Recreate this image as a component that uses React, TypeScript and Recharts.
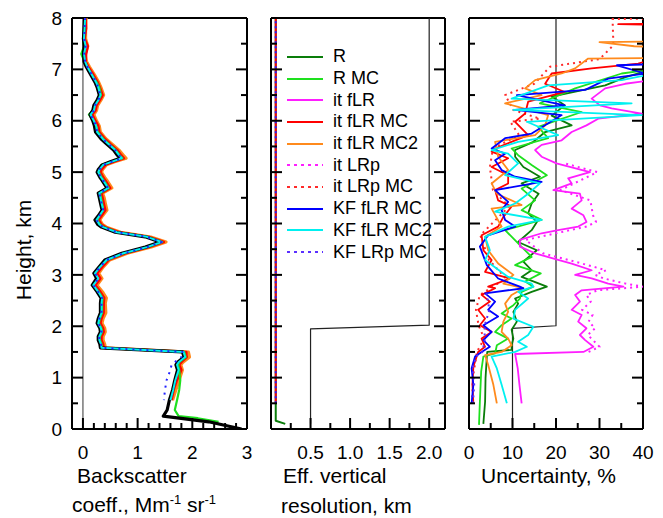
import { ReferenceLine, Scatter, ScatterChart, XAxis, YAxis } from "recharts";

const FONT = '"Liberation Sans", Arial, Helvetica, sans-serif';

// ---- shared height axis (km)
const heightTicks = [0, 1, 2, 3, 4, 5, 6, 7, 8];
const heightMinor = [0.5, 1.5, 2.5, 3.5, 4.5, 5.5, 6.5, 7.5];

// ---- panel 1: backscatter coefficient, Mm-1 sr-1
const bsTicks = [0, 1, 2, 3];
const bsMinor = [0.2, 0.4, 0.6, 0.8, 1.2, 1.4, 1.6, 1.8, 2.2, 2.4, 2.6, 2.8];

const bsHeight = [
  8.0, 7.8, 7.6, 7.45, 7.3, 7.15, 7.05, 6.9, 6.75, 6.65,
  6.5, 6.4, 6.3, 6.2, 6.12, 6.0, 5.9, 5.78, 5.65, 5.55,
  5.43, 5.33, 5.27, 5.2, 5.14, 5.05, 5.0, 4.9, 4.84, 4.69,
  4.59, 4.5, 4.4, 4.26, 4.15, 4.07, 3.98, 3.93, 3.83, 3.74,
  3.64, 3.54, 3.42, 3.29, 3.15, 3.03, 2.93, 2.8, 2.67, 2.55,
  2.45, 2.26, 2.15, 2.06, 1.96, 1.89, 1.8, 1.73, 1.65, 1.58,
  1.5, 1.4, 1.3, 1.25, 1.15, 0.95, 0.76, 0.56, 0.37, 0.25,
  0.21, 0.14, 0.0,
];
const bsBlack = [
  0.03, 0.02, 0.01, 0.02, 0.01, 0.02, 0.06, 0.14, 0.22, 0.26,
  0.3, 0.26, 0.2, 0.18, 0.13, 0.18, 0.21, 0.23, 0.33, 0.43,
  0.56, 0.63, 0.68, 0.5, 0.35, 0.28, 0.26, 0.31, 0.35, 0.44,
  0.28, 0.3, 0.32, 0.35, 0.28, 0.22, 0.27, 0.34, 0.59, 1.14,
  1.41, 1.14, 0.71, 0.4, 0.29, 0.2, 0.25, 0.17, 0.26, 0.33,
  0.32, 0.32, 0.28, 0.26, 0.31, 0.32, 0.28, 0.28, 0.31, 0.32,
  1.82, 1.85, 1.73, 1.7, 1.73, 1.68, 1.64, 1.58, 1.54, 1.47,
  1.76, 2.3, 2.9,
];
const bsRMC = [
  0.04, 0.03, 0.0, 0.02, -0.03, 0.03, 0.08, 0.16, 0.25, 0.3,
  0.33, 0.28, 0.21, 0.18, 0.11, 0.19, 0.24, 0.27, 0.37, 0.47,
  0.6, 0.67, 0.72, 0.5, 0.33, 0.3, 0.29, 0.34, 0.38, 0.47,
  0.31, 0.33, 0.35, 0.37, 0.3, 0.26, 0.31, 0.38, 0.63, 1.18,
  1.45, 1.18, 0.75, 0.44, 0.3, 0.21, 0.27, 0.18, 0.29, 0.36,
  0.35, 0.35, 0.31, 0.29, 0.34, 0.35, 0.31, 0.31, 0.34, 0.35,
  1.85, 1.88, 1.76, 1.74, 1.76, 1.78, 1.76, 1.72, 1.68, 1.75,
  2.1, 2.48, null,
];
const bsItFlrMC = [
  0.05, 0.06, 0.03, 0.09, 0.06, 0.05, 0.1, 0.19, 0.27, 0.31,
  0.36, 0.31, 0.25, 0.23, 0.17, 0.23, 0.28, 0.3, 0.4, 0.5,
  0.63, 0.7, 0.75, 0.56, 0.41, 0.34, 0.32, 0.37, 0.41, 0.5,
  0.34, 0.36, 0.38, 0.41, 0.34, 0.29, 0.34, 0.41, 0.66, 1.21,
  1.48, 1.21, 0.78, 0.47, 0.35, 0.26, 0.32, 0.23, 0.32, 0.39,
  0.38, 0.38, 0.34, 0.32, 0.37, 0.38, 0.34, 0.34, 0.37, 0.38,
  1.89, 1.9, 1.8, 1.76, 1.8, 1.72, 1.66, 1.62, null, null,
  null, null, null,
];
const bsItFlrMC2 = [
  0.06, 0.05, 0.05, 0.09, 0.04, 0.07, 0.12, 0.21, 0.29, 0.33,
  0.38, 0.33, 0.27, 0.25, 0.2, 0.25, 0.3, 0.32, 0.42, 0.53,
  0.66, 0.74, 0.79, 0.58, 0.43, 0.36, 0.34, 0.4, 0.44, 0.53,
  0.36, 0.39, 0.41, 0.44, 0.36, 0.31, 0.36, 0.43, 0.69, 1.24,
  1.52, 1.25, 0.81, 0.49, 0.37, 0.29, 0.35, 0.26, 0.36, 0.43,
  0.41, 0.42, 0.37, 0.35, 0.4, 0.41, 0.37, 0.37, 0.4, 0.41,
  1.93, 1.95, 1.83, 1.79, 1.82, 1.76, 1.7, 1.64, null, null,
  null, null, null,
];
const bsKfFlrMC2 = [
  0.04, 0.03, 0.02, 0.05, 0.02, 0.04, 0.08, 0.16, 0.24, 0.28,
  0.32, 0.28, 0.22, 0.2, 0.14, 0.2, 0.24, 0.26, 0.36, 0.46,
  0.59, 0.66, 0.71, 0.52, 0.37, 0.3, 0.28, 0.33, 0.37, 0.46,
  0.3, 0.32, 0.34, 0.37, 0.3, 0.25, 0.3, 0.37, 0.62, 1.17,
  1.44, 1.17, 0.74, 0.43, 0.31, 0.22, 0.28, 0.19, 0.28, 0.35,
  0.34, 0.34, 0.3, 0.28, 0.33, 0.34, 0.3, 0.3, 0.33, 0.34,
  1.84, 1.87, 1.75, 1.72, 1.75, 1.69, 1.65, 1.6, null, null,
  null, null, null,
];
const bsKfLrpMC = [
  0.04, 0.03, 0.02, 0.05, 0.02, 0.04, 0.08, 0.16, 0.24, 0.28,
  0.32, 0.28, 0.22, 0.2, 0.14, 0.2, 0.24, 0.26, 0.36, 0.46,
  0.59, 0.66, 0.71, 0.52, 0.37, 0.3, 0.28, 0.33, 0.37, 0.46,
  0.3, 0.32, 0.34, 0.37, 0.3, 0.25, 0.3, 0.37, 0.62, 1.17,
  1.44, 1.17, 0.74, 0.43, 0.31, 0.22, 0.28, 0.19, 0.28, 0.35,
  0.34, 0.34, 0.3, 0.28, 0.33, 0.34, 0.3, 0.3, 0.33, 0.34,
  1.84, 1.8, 1.68, 1.62, 1.6, 1.53, 1.5, 1.48, null, null,
  null, null, null,
];

// ---- panel 2: effective vertical resolution, km  [height, value]
const resTicks = [0.5, 1, 1.5, 2];
const resMinor = [0.25, 0.75, 1.25, 1.75];
const resBlack = [[0.1, 0.5], [1.95, 0.5], [2.02, 2.0], [8, 2.0]];
const resR = [[0.1, 0.18], [0.16, 0.06], [8, 0.06]];
const resItFlrMC = [[0.5, 0.06], [8, 0.06]];
const resKfLrpMC = [[0.5, 0.06], [8, 0.06]];

// ---- panel 3: uncertainty, %  [height, value]
const uncTicks = [0, 10, 20, 30, 40];
const uncMinor = [5, 15, 25, 35];
const uncBlack = [[0.05, 10], [1.96, 10], [2.01, 20], [8, 20]];
const uncR = [
  [0.1, 3.3], [0.53, 3.7], [0.99, 3.8], [1.41, 4.1], [1.5, 4.2], [1.54, 9.8], [1.63, 9.8], [1.76, 10.2],
  [1.93, 9.8], [2.09, 11], [2.28, 10.2], [2.44, 11.3], [2.54, 10.6], [2.67, 14.4], [2.77, 17.9], [2.96, 12.1],
  [3.09, 14.4], [3.26, 12.5], [3.48, 15.6], [3.64, 11.3], [3.87, 14.4], [4.03, 15.6], [4.2, 13.6], [4.39, 14.4],
  [4.58, 16], [4.78, 12.1], [4.91, 16.3], [5.1, 12.5], [5.3, 10.6], [5.43, 10.6], [5.59, 14.8], [5.78, 17.5],
  [5.91, 23.6], [6.1, 19], [6.3, 22], [6.47, 19], [6.69, 31.3], [6.85, 36], [7.0, 42],
];
const uncRMC = [
  [0.08, 2.3], [0.53, 2.5], [1.12, 2.8], [1.41, 3.3], [1.47, 6], [1.63, 6.4], [1.76, 9], [1.89, 6],
  [2.02, 7.5], [2.15, 9.8], [2.25, 7.5], [2.41, 10.2], [2.54, 11.7], [2.67, 12.1], [2.77, 14.8], [2.87, 12.9],
  [3.03, 16.5], [3.19, 10.6], [3.35, 14.4], [3.58, 11.7], [3.87, 8.3], [4.07, 16.7], [4.26, 12.1], [4.45, 15.2],
  [4.68, 12.1], [4.94, 17.9], [5.14, 14.4], [5.33, 11.3], [5.46, 9.8], [5.66, 18.2], [5.88, 15.9], [6.17, 25.9],
  [6.34, 16.3], [6.63, 24.4], [6.92, 35.1], [7.0, 42],
];
const uncItFlr = [
  [0.5, 12.1], [0.86, 11.6], [1.18, 11.2], [1.46, 10.6], [1.5, 26.3], [1.6, 28.6], [1.73, 26.7], [1.83, 25.5],
  [1.96, 27], [2.09, 25.1], [2.22, 25.9], [2.32, 23.6], [2.48, 25.5], [2.61, 24.4], [2.7, 25.9], [2.77, 35.5],
  [2.83, 32], [2.93, 28.2], [3.0, 24.4], [3.09, 28.2], [3.22, 23.6], [3.29, 20.5], [3.42, 15.2], [3.55, 11.7],
  [3.68, 11.7], [3.81, 16.7], [3.87, 20.5], [3.94, 25.1], [4.03, 27], [4.16, 26.3], [4.29, 23.6], [4.45, 25.9],
  [4.58, 25.5], [4.65, 19.4], [4.78, 23.6], [4.88, 22.8], [5.0, 27.8], [5.17, 20.1], [5.3, 16.7], [5.43, 15.2],
  [5.53, 16.7], [5.62, 21.3], [5.78, 23.6], [5.91, 27], [6.04, 29.7], [6.14, 39.7], [6.24, 32.8], [6.3, 30.1],
  [6.43, 28.2], [6.63, 31.3], [6.72, 35.9], [6.79, 42],
];
const uncItLrp = [
  [1.5, 27.5], [1.6, 30], [1.73, 28.5], [1.83, 27.3], [1.96, 29], [2.09, 27.5], [2.22, 28.4], [2.32, 26],
  [2.48, 28], [2.61, 27], [2.7, 29.5], [2.77, 40], [2.83, 36], [2.93, 31], [3.0, 29], [3.09, 31.5],
  [3.22, 26], [3.42, 17], [3.68, 13], [3.94, 27], [4.03, 29.2], [4.16, 28.5], [4.45, 27.9], [4.65, 21],
  [5.0, 29.5], [5.17, 22],
];
const uncItFlrMC = [
  [0.5, 1.0], [0.86, 0.8], [1.21, 1.0], [1.5, 2.1], [1.6, 3.7], [1.76, 2.9], [1.89, 5.2], [2.02, 2.5],
  [2.15, 3.7], [2.32, 2.1], [2.48, 4.8], [2.61, 2.9], [2.74, 6.0], [2.77, 4.4], [2.93, 9.4], [3.06, 3.7],
  [3.29, 5.2], [3.48, 3.3], [3.77, 2.9], [3.94, 6.7], [4.13, 7.9], [4.33, 9.8], [4.45, 6.7], [4.65, 6.0],
  [4.78, 9.0], [4.94, 9.0], [5.1, 5.2], [5.27, 9.0], [5.4, 5.2], [5.46, 6], [5.72, 13.6], [5.98, 10.6],
  [6.14, 12.9], [6.37, 13.6], [6.56, 22], [6.72, 17.5], [6.92, 19], [7.02, 28.2], [7.11, 38.9], [7.2, 42],
  [7.87, 42], [7.88, 34.3], [7.89, 42],
];
const uncItLrpMC = [
  [0.5, 0.7], [1.0, 0.9], [1.5, 1.8], [1.76, 3.5], [2.02, 2.2], [2.32, 1.6], [2.61, 2.5], [2.93, 8.5],
  [3.29, 4.6], [3.77, 2.6], [4.33, 9.2], [4.65, 5.5], [5.1, 4.8], [5.46, 5.5], [5.72, 11.5], [5.98, 9.5],
  [6.04, 16.3], [6.21, 10.2], [6.5, 8.3], [6.72, 15], [7.05, 18.6], [7.2, 30], [7.47, 33.2], [7.98, 33],
  [7.99, 42],
];
const uncItFlrMC2 = [
  [0.5, 6.4], [0.86, 5.6], [1.25, 4.4], [1.44, 3.7], [1.5, 7.5], [1.63, 9.8], [1.76, 9], [1.89, 7.5],
  [2.09, 7.9], [2.28, 9], [2.44, 8.3], [2.61, 9.8], [2.74, 12.5], [2.83, 7.9], [3.0, 10.2], [3.22, 6.7],
  [3.48, 4.4], [3.74, 3.7], [3.94, 7.5], [4.29, 5.2], [4.36, 12.1], [4.58, 6.4], [4.78, 5.2], [5.04, 9],
  [5.3, 6.7], [5.59, 6], [5.72, 15.2], [5.91, 17.5], [6.11, 18.2], [6.34, 8.3], [6.5, 16.7], [6.63, 12.9],
  [6.79, 15.2], [6.92, 21.3], [7.02, 24.4], [7.21, 27.4], [7.22, 42], [7.44, 42], [7.45, 38], [7.53, 30],
  [7.54, 42],
];
const uncKfFlrMC = [
  [0.5, 0.6], [0.86, 1.0], [1.18, 0.6], [1.41, 1.4], [1.5, 2.9], [1.6, 4.8], [1.73, 3.3], [1.89, 5.2],
  [2.02, 3.3], [2.19, 6.7], [2.32, 4.4], [2.48, 6.0], [2.64, 3.7], [2.74, 12.5], [2.77, 11.7], [2.93, 6.7],
  [3.19, 4.1], [3.55, 2.5], [3.77, 4.4], [3.94, 10.6], [4.07, 8.3], [4.26, 7.5], [4.42, 9], [4.65, 6],
  [4.81, 16.7], [4.91, 10.6], [5.04, 7.5], [5.23, 6], [5.36, 8.3], [5.46, 5.2], [5.66, 8.3], [5.75, 14.4],
  [6.11, 21.3], [6.21, 10.6], [6.3, 22], [6.5, 11], [6.6, 26.7], [6.82, 32], [6.92, 40.5], [7.08, 34],
  [7.1, 42],
];
const uncKfFlrMC2 = [
  [0.5, 8.7], [0.86, 7.5], [1.18, 6.4], [1.41, 5.2], [1.5, 10.6], [1.6, 13.3], [1.7, 11.3], [1.83, 13.6],
  [1.99, 14.8], [2.15, 10.2], [2.32, 10.6], [2.54, 13.6], [2.67, 11.3], [2.77, 14.8], [2.83, 14.4], [2.96, 9],
  [3.29, 3.7], [3.48, 4.8], [3.74, 3.7], [3.94, 9], [4.07, 16.7], [4.23, 6], [4.39, 10.6], [4.58, 13.6],
  [4.78, 16.3], [4.94, 8.3], [5.17, 11.3], [5.36, 9], [5.43, 5.2], [5.59, 11.3], [5.72, 20.5], [5.98, 13.3],
  [6.11, 39.7], [6.21, 10.2], [6.34, 37.4], [6.43, 9.8], [6.69, 18.2], [6.79, 35.1], [6.89, 41],
];
const uncKfLrpMC = [
  [0.5, 0.9], [0.86, 1.2], [1.18, 0.8], [1.41, 1.6], [1.5, 3.1], [1.73, 3.6], [2.02, 3.6], [2.32, 4.7],
  [2.64, 4.0],
];

// ---- legend
const legendNames = ["R", "R MC", "it fLR", "it fLR MC", "it fLR MC2", "it LRp", "it LRp MC", "KF fLR MC", "KF fLR MC2", "KF LRp MC"];
const legendColors = ["#0a7d0a", "#1ee01e", "#ff1eff", "#ff0000", "#ff8a1c", "#ff1eff", "#ff2a2a", "#0000ff", "#00f0f0", "#5a30ff"];
const legendDotted = [false, false, false, false, false, true, true, false, false, true];

const C = {
  r: legendColors[0],
  rmc: legendColors[1],
  fl: legendColors[2],
  flmc: legendColors[3],
  flmc2: legendColors[4],
  lrp: legendColors[5],
  lrpmc: legendColors[6],
  kf: legendColors[7],
  kf2: legendColors[8],
  kflrp: legendColors[9],
};
const DOT = "2 4";

const profile = (hs: number[], vs: (number | null)[]) =>
  hs.map((h, i) => ({ h, v: vs[i] })).filter((p) => p.v != null);
const pairs = (rows: number[][]) => rows.map(([h, v]) => ({ h, v }));

const trace = (key: string, data: any[], color: string, width: number, dash?: string) => (
  <Scatter
    key={key}
    data={data}
    fill="none"
    legendType="none"
    isAnimationActive={false}
    shape={() => <g />}
    line={{ stroke: color, strokeWidth: width, strokeDasharray: dash, strokeLinejoin: "round" }}
  />
);

const axisStroke = { stroke: "#000", strokeWidth: 2 };
const MAJOR = 11;
const MINOR = 6;

// tick renderer: inward tick mark (long on majors, short on minors), optional label.
// `gap` is the distance between the label anchor and the plot edge.
const frameTick =
  (side: "left" | "right" | "top" | "bottom", majors: number[], gap: number, label?: (v: number) => string) =>
  (props: any) => {
    const { x, y, payload } = props;
    const v = payload.value;
    const major = majors.includes(v);
    const len = major ? MAJOR : MINOR;
    let mark;
    if (side === "left") mark = <line x1={x + gap} y1={y} x2={x + gap + len} y2={y} />;
    else if (side === "right") mark = <line x1={x - gap} y1={y} x2={x - gap - len} y2={y} />;
    else if (side === "top") mark = <line x1={x} y1={y + gap} x2={x} y2={y + gap + len} />;
    else mark = <line x1={x} y1={y - gap} x2={x} y2={y - gap - len} />;
    return (
      <g>
        <g stroke="#000" strokeWidth={2}>{mark}</g>
        {label && major && (
          <text
            x={x}
            y={y}
            dy={side === "bottom" ? "0.71em" : "0.35em"}
            textAnchor={side === "left" ? "end" : "middle"}
            fontSize={19}
            fontFamily={FONT}
            fill="#000"
          >
            {label(v)}
          </text>
        )}
      </g>
    );
  };

const titleLabel = (lines: { dx: number; dy: number; text: any }[]) => ({
  content: (p: any) => {
    const vb = p.viewBox || { x: 0, y: 0 };
    return (
      <g>
        {lines.map((l, i) => (
          <text key={i} x={vb.x + l.dx} y={vb.y + l.dy} fontSize={21} fontFamily={FONT} fill="#000">
            {l.text}
          </text>
        ))}
      </g>
    );
  },
});

const sup = (s: string) => (
  <tspan fontSize={13} dy={-8}>
    {s}
  </tspan>
);

const CHART_H = 518;
const X_AXIS_H = 89;
const LABEL_GAP_X = 17;
const LABEL_GAP_Y = 10;

// main bottom axis carrying labels + inward bottom ticks
const bottomAxis = (domain: number[], majors: number[], minors: number[], fmt: (v: number) => string, label: any) => (
  <XAxis
    dataKey="v"
    type="number"
    domain={domain}
    allowDataOverflow
    ticks={[...majors, ...minors]}
    interval={0}
    height={X_AXIS_H}
    tickLine={false}
    tickSize={0}
    tickMargin={LABEL_GAP_X}
    axisLine={axisStroke}
    tick={frameTick("bottom", majors, LABEL_GAP_X, fmt)}
    label={label}
  />
);

// top and right frame sides (mirrored, 1px size so they sit on the plot edge)
const topRightAxes = (domain: number[], majors: number[], minors: number[]) => [
  <XAxis
    key="top"
    xAxisId="top"
    orientation="top"
    mirror
    height={1}
    type="number"
    domain={domain}
    allowDataOverflow
    ticks={[...majors, ...minors]}
    interval={0}
    tickLine={false}
    tickSize={0}
    tickMargin={0}
    axisLine={axisStroke}
    tick={frameTick("top", majors, 0)}
  />,
  <YAxis
    key="right"
    yAxisId="right"
    orientation="right"
    mirror
    width={1}
    type="number"
    domain={[0, 8]}
    allowDataOverflow
    ticks={[...heightTicks, ...heightMinor]}
    interval={0}
    tickLine={false}
    tickSize={0}
    tickMargin={0}
    axisLine={axisStroke}
    tick={frameTick("right", heightTicks, 0)}
  />,
];

// left side for panels 2 and 3: no labels, mirrored onto the plot edge
const plainLeftAxis = () => (
  <YAxis
    dataKey="h"
    type="number"
    domain={[0, 8]}
    allowDataOverflow
    mirror
    width={1}
    ticks={[...heightTicks, ...heightMinor]}
    interval={0}
    tickLine={false}
    tickSize={0}
    tickMargin={0}
    axisLine={axisStroke}
    tick={frameTick("left", heightTicks, 0)}
  />
);

export default function App() {
  return (
    <div style={{ position: "fixed", left: 0, top: 0, width: 663, height: 518, background: "#fff", fontFamily: FONT }}>
      {/* panel 1: backscatter */}
      <div style={{ position: "absolute", left: 0, top: 0 }}>
        <ScatterChart width={262} height={CHART_H} margin={{ top: 18, right: 15, bottom: 0, left: 0 }}>
          {bottomAxis(
            [-0.2, 3],
            bsTicks,
            bsMinor,
            (v) => String(v),
            titleLabel([
              { dx: 5, dy: 54, text: "Backscatter" },
              {
                dx: 0,
                dy: 83,
                text: (
                  <>
                    coeff., Mm{sup("-1")}
                    <tspan dy={8}>{"  sr"}</tspan>
                    {sup("-1")}
                  </>
                ),
              },
            ])
          )}
          <YAxis
            dataKey="h"
            type="number"
            domain={[0, 8]}
            allowDataOverflow
            ticks={[...heightTicks, ...heightMinor]}
            interval={0}
            width={72}
            tickLine={false}
            tickSize={0}
            tickMargin={LABEL_GAP_Y}
            axisLine={axisStroke}
            tick={frameTick("left", heightTicks, LABEL_GAP_Y, (v) => String(v))}
            label={{
              content: () => (
                <text
                  x={23}
                  y={250}
                  transform="rotate(-90 23 250)"
                  textAnchor="middle"
                  dominantBaseline="central"
                  fontSize={21}
                  fontFamily={FONT}
                  fill="#000"
                >
                  Height, km
                </text>
              ),
            }}
          />
          {topRightAxes([-0.2, 3], bsTicks, bsMinor)}
          <ReferenceLine x={0} stroke="#555" strokeWidth={1.2} />
          {trace("bs-mc2", profile(bsHeight, bsItFlrMC2), C.flmc2, 3)}
          {trace("bs-mc", profile(bsHeight, bsItFlrMC), C.flmc, 2.4)}
          {trace("bs-rmc", profile(bsHeight, bsRMC), C.rmc, 2.2)}
          {trace("bs-black", profile(bsHeight, bsBlack), "#000", 3.2)}
          {trace("bs-kf2", profile(bsHeight, bsKfFlrMC2), C.kf2, 2)}
          {trace("bs-kflrp", profile(bsHeight, bsKfLrpMC), "#2222ff", 2, "2 5")}
        </ScatterChart>
      </div>

      {/* panel 2: effective vertical resolution */}
      <div style={{ position: "absolute", left: 250, top: 0 }}>
        <ScatterChart width={200} height={CHART_H} margin={{ top: 18, right: 5, bottom: 0, left: 21 }}>
          {bottomAxis(
            [0, 2.2],
            resTicks,
            resMinor,
            (v) => v.toFixed(1),
            titleLabel([
              { dx: 12, dy: 54, text: "Eff. vertical" },
              { dx: 10, dy: 84, text: "resolution, km" },
            ])
          )}
          {plainLeftAxis()}
          {topRightAxes([0, 2.2], resTicks, resMinor)}
          {trace("res-black", pairs(resBlack), "#222", 1.2)}
          {trace("res-r", pairs(resR), C.r, 2)}
          {trace("res-mc", pairs(resItFlrMC), C.flmc, 2)}
          {trace("res-kflrp", pairs(resKfLrpMC), "#2222ff", 2, "2 3")}
        </ScatterChart>
      </div>

      {/* panel 3: uncertainty */}
      <div style={{ position: "absolute", left: 450, top: 0 }}>
        <ScatterChart width={213} height={CHART_H} margin={{ top: 18, right: 20, bottom: 0, left: 19 }}>
          {bottomAxis(
            [0, 40],
            uncTicks,
            uncMinor,
            (v) => String(v),
            titleLabel([{ dx: 12, dy: 54, text: "Uncertainty, %" }])
          )}
          {plainLeftAxis()}
          {topRightAxes([0, 40], uncTicks, uncMinor)}
          {trace("u-black", pairs(uncBlack), "#222", 1.2)}
          {trace("u-r", pairs(uncR), C.r, 1.8)}
          {trace("u-rmc", pairs(uncRMC), C.rmc, 1.8)}
          {trace("u-lrp", pairs(uncItLrp), C.lrp, 2, DOT)}
          {trace("u-fl", pairs(uncItFlr), C.fl, 1.8)}
          {trace("u-lrpmc", pairs(uncItLrpMC), C.lrpmc, 2, DOT)}
          {trace("u-mc", pairs(uncItFlrMC), C.flmc, 1.8)}
          {trace("u-mc2", pairs(uncItFlrMC2), C.flmc2, 1.8)}
          {trace("u-kf", pairs(uncKfFlrMC), C.kf, 1.8)}
          {trace("u-kf2", pairs(uncKfFlrMC2), C.kf2, 1.8)}
          {trace("u-kflrp", pairs(uncKfLrpMC), C.kflrp, 2, DOT)}
        </ScatterChart>
      </div>

      {/* legend drawn over panel 2 */}
      <div style={{ position: "absolute", left: 287, top: 46, fontSize: 18, color: "#000" }}>
        {legendNames.map((name, i) => (
          <div key={name} style={{ display: "flex", alignItems: "center", height: 21.7, whiteSpace: "nowrap" }}>
            <svg width={36} height={4} style={{ marginRight: 10 }}>
              <line
                x1={0}
                y1={2}
                x2={36}
                y2={2}
                stroke={legendColors[i]}
                strokeWidth={2}
                strokeDasharray={legendDotted[i] ? "3 4" : undefined}
              />
            </svg>
            <span>{name}</span>
          </div>
        ))}
      </div>
    </div>
  );
}
